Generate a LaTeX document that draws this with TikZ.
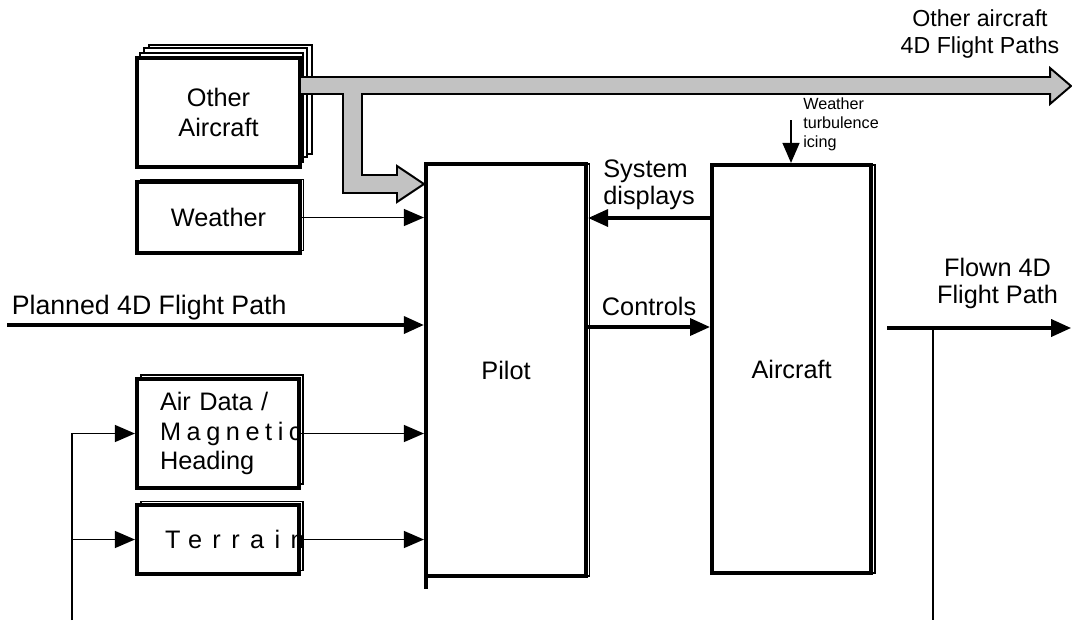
\documentclass[tikz,border=0pt]{standalone}
\usepackage{fontspec}
\setmainfont{Liberation Sans}
\usetikzlibrary{arrows.meta,shadows}

\begin{document}
\begin{tikzpicture}[
    box/.style={rectangle, draw, fill=white, line width=2.9pt, align=center, font=\fontsize{18}{21}\selectfont},
    sheet/.style 2 args={copy shadow={shadow xshift=#1, shadow yshift=#2, draw, fill=white, line width=0.9pt}},
    arrow/.style={-{Triangle[length=0.5cm, width=0.42cm]}, line width=1.3pt},
    thickarrow/.style={arrow, line width=2.8pt},
    feed/.style={line width=1.3pt},
    fatarrow/.style={draw, line width=1.4pt, fill=black!24},
    lbl/.style={font=\fontsize{18}{19}\selectfont, align=left},
    smalllbl/.style={font=\fontsize{11.5}{13.5}\selectfont, align=left}
]

\useasboundingbox (0,0) rectangle (26.8,-15.7);

% === SOURCES ===
\node[box, minimum width=4.075cm, minimum height=2.725cm,
      sheet={0.3cm}{0.325cm}, sheet={0.175cm}{0.25cm}, sheet={0.075cm}{0.125cm}]
      (other) at (5.4625,-2.8125) {Other\\Aircraft};
\node[box, minimum width=4.075cm, minimum height=1.775cm, sheet={0.08cm}{0.07cm}]
      (weather) at (5.4625,-5.4375) {Weather};
\node[box, minimum width=4.05cm, minimum height=2.725cm, text width=2.9cm, inner xsep=0.575cm,
      align=left, sheet={0.1cm}{0.1cm}]
      (airdata) at (5.45,-10.8375) {Air Data /\\{\addfontfeature{LetterSpace=22}Magnetic}\\Heading};
\node[box, minimum width=4.05cm, minimum height=1.725cm, text width=2.65cm, inner xsep=0.7cm,
      align=left, sheet={0.1cm}{0.08cm}]
      (terrain) at (5.45,-13.4875) {\addfontfeature{LetterSpace=41}Terrain};

% === PILOT AND AIRCRAFT ===
\node[box, minimum width=4cm, minimum height=10.3cm, sheet={0.09cm}{0cm}] (pilot) at (12.65,-9.25) {Pilot};
\node[box, minimum width=3.975cm, minimum height=10.2cm, sheet={0.1cm}{0cm}] (aircraft) at (19.79,-9.225) {Aircraft};
\draw[line width=2.9pt] ([xshift=1.45pt]pilot.south west) -- ++(0,-0.28);

% === OTHER AIRCRAFT PATHS ===
\coordinate (fanin) at (0,-4.6);
\draw[fatarrow] (7.5,-1.925) -- (26.25,-1.925) -- (26.25,-1.7) -- (26.775,-2.15) -- (26.25,-2.6)
    -- (26.25,-2.35) -- (9.05,-2.35) -- (9.05,-4.375) -- (9.925,-4.375) -- (9.925,-4.15)
    -- (pilot.west |- fanin) -- (9.925,-5.05) -- (9.925,-4.825) -- (8.575,-4.825)
    -- (8.575,-2.35) -- (7.5,-2.35) -- cycle;
\node[font=\fontsize{16.5}{19}\selectfont, align=center] (pathslbl) at (24.5,-0.85) {Other aircraft\\4D Flight Paths};

% === INPUTS TO PILOT ===
\coordinate (planstart) at (0.175,-8.125);
\draw[arrow] (weather.east) -- (weather.east -| pilot.west);
\draw[thickarrow] (planstart) node[lbl, font=\fontsize{19}{20}\selectfont, above right, inner sep=2pt] {Planned 4D Flight Path} -- (planstart -| pilot.west);
\draw[arrow] (airdata.east) -- (airdata.east -| pilot.west);
\draw[arrow] (terrain.east) -- (terrain.east -| pilot.west);

% === PILOT <-> AIRCRAFT ===
\coordinate (ctl) at (0,-8.175);
\coordinate (disp) at (0,-5.45);
\draw[thickarrow] (pilot.east |- ctl) -- node[lbl, above=3pt] {Controls} (aircraft.west |- ctl);
\draw[thickarrow] (aircraft.west |- disp) -- node[lbl, above=1pt] {System\\displays} (pilot.east |- disp);

% disturbances
\coordinate (wxtop) at (19.775,-3.0);
\draw[arrow] (wxtop) -- (wxtop |- aircraft.north);
\node[smalllbl, anchor=north west, inner sep=0pt] (wxlbl) at (20.075,-2.45) {Weather\\turbulence\\icing};

% === OUTPUT AND FEEDBACK ===
\coordinate (flownstart) at (22.175,-8.2);
\coordinate (flownend) at (26.78,-8.2);
\draw[thickarrow] (flownstart) -- node[lbl, pos=0.6, above=0.32cm, align=center] {Flown 4D\\Flight Path} (flownend);
\coordinate (tap) at (23.325,-8.2);
\coordinate (tapend) at (23.325,-15.5);
\draw[feed] (tap) -- (tapend);

\coordinate (fbend) at (1.8,-15.5);
\draw[arrow] (fbend) |- (airdata.west);
\draw[arrow] (fbend |- terrain.west) -- (terrain.west);

\end{tikzpicture}
\end{document}
